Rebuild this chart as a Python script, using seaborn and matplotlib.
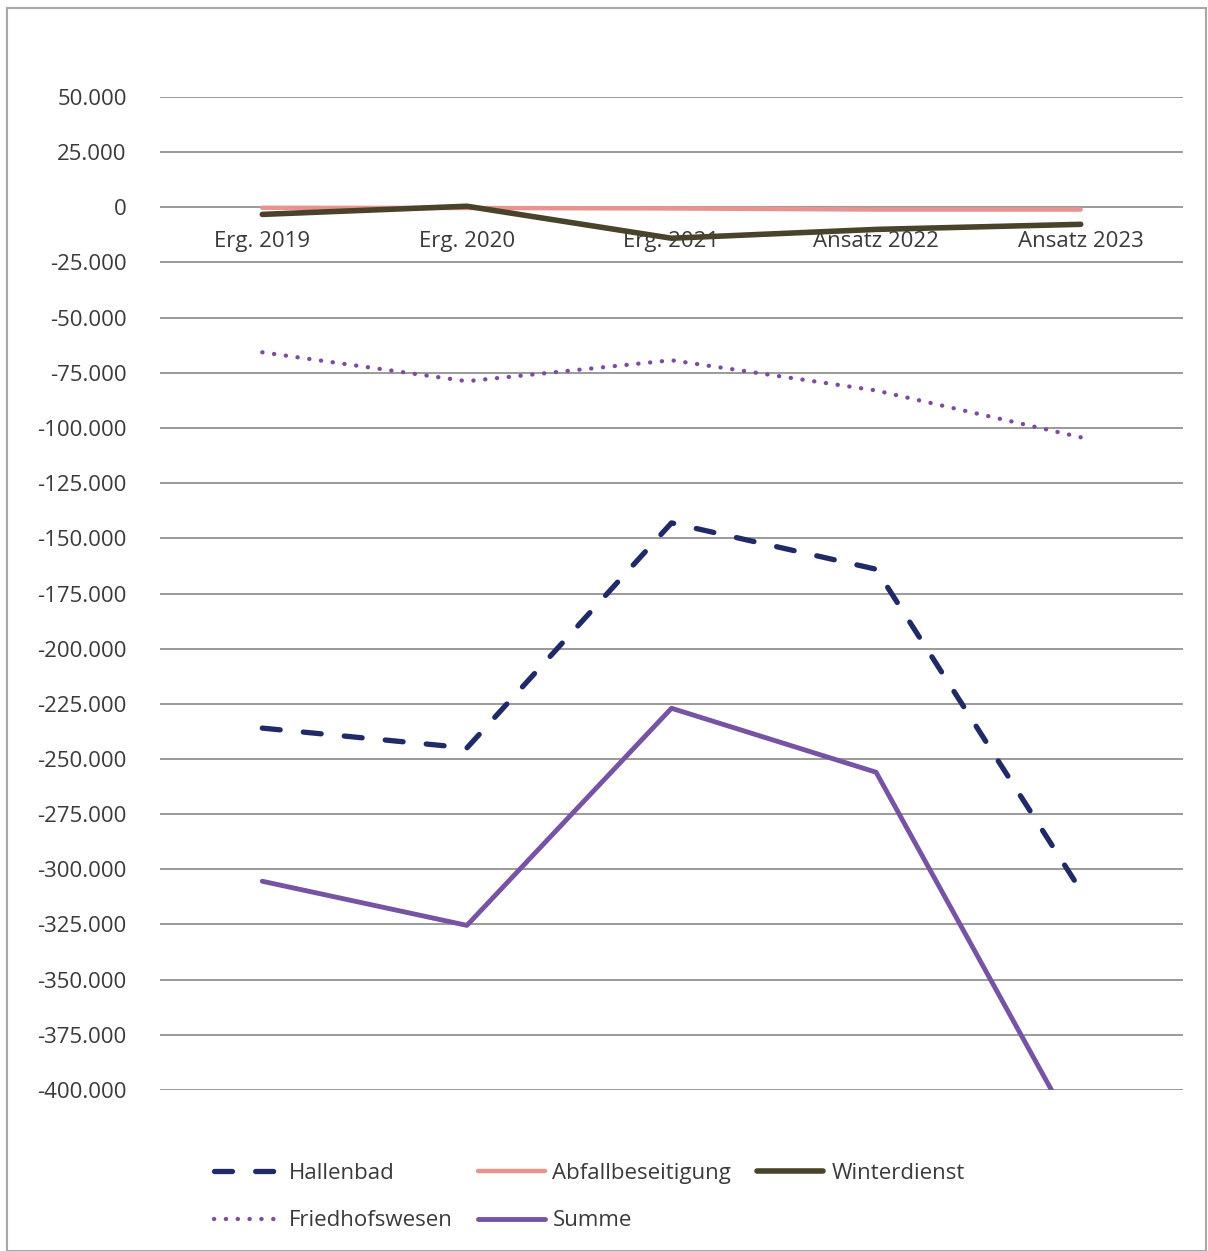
import matplotlib
matplotlib.use("Agg")
import matplotlib.pyplot as plt
import seaborn as sns
import pandas as pd
from matplotlib.patches import Rectangle
from matplotlib.ticker import FuncFormatter, FixedLocator

categories = ["Erg. 2019", "Erg. 2020", "Erg. 2021", "Ansatz 2022", "Ansatz 2023"]
hallenbad = [-236000, -245000, -143000, -164000, -309500]
abfall = [-200, -300, -500, -1000, -1000]
winterdienst = [-3200, 500, -14000, -10000, -7700]
friedhof = [-65700, -78800, -69300, -83000, -104200]
summe = [-305400, -325400, -227000, -256000, -424000]
yticks = list(range(-400000, 50001, 25000))

sns.set_theme(style="white")
plt.rcParams['font.family'] = ['Open Sans', 'DejaVu Sans']

fig = plt.figure(figsize=(12.08, 12.51), dpi=100)
ax = fig.add_axes([160/1208, 1-1090/1251, (1183-160)/1208, (1090-97)/1251])

x = list(range(len(categories)))
series = [
    ("Hallenbad", hallenbad, dict(color="#1f2a66", linewidth=3.8, dashes=(3.4, 4.4),
                                  dash_capstyle="round")),
    ("Abfallbeseitigung", abfall, dict(color="#e8938f", linewidth=3.2)),
    ("Winterdienst", winterdienst, dict(color="#48432a", linewidth=4.0)),
    ("Friedhofswesen", friedhof, dict(color="#7e4c9c", linewidth=3.1, dashes=(0.05, 2.7),
                                      dash_capstyle="round")),
    ("Summe", summe, dict(color="#7653a3", linewidth=3.5)),
]
handles = {}
for name, vals, kw in series:
    df = pd.DataFrame({"x": x, "y": vals})
    sns.lineplot(data=df, x="x", y="y", ax=ax, label=name, **kw)
    handles[name] = ax.get_lines()[-1]
if ax.get_legend():
    ax.get_legend().remove()

ax.set_ylim(-400000, 50000)
ax.set_xlim(-0.5, 4.5)
ax.yaxis.set_major_locator(FixedLocator(yticks))
ax.yaxis.set_major_formatter(FuncFormatter(lambda v, p: f"{v:,.0f}".replace(",", ".")))
ax.grid(axis="y", color="#9a9a9a", linewidth=1.4)
ax.set_axisbelow(True)
for s in ["top", "right", "left"]:
    ax.spines[s].set_visible(False)
ax.spines["bottom"].set_position(("data", 0))
ax.spines["bottom"].set_visible(False)
ax.set_xticks(x)
ax.set_xticklabels(categories)
ax.tick_params(axis="x", length=0, pad=17, labelsize=16, labelcolor="#3a3a3a")
ax.tick_params(axis="y", length=0, pad=24, labelsize=16, labelcolor="#3a3a3a")
ax.set_xlabel("")
ax.set_ylabel("")

order = ["Hallenbad", "Friedhofswesen", "Abfallbeseitigung", "Summe", "Winterdienst"]
leg = fig.legend([handles[n] for n in order], order, ncol=3, loc="center left",
                 bbox_to_anchor=(194/1208, 1-1197/1251), frameon=False,
                 fontsize=16, handlelength=3.0, handletextpad=0.35,
                 columnspacing=1.15, labelspacing=1.2)
for t in leg.get_texts():
    t.set_color("#3a3a3a")

fig.patches.append(Rectangle((7/1208, 0), 1199/1208, 1-8/1251, transform=fig.transFigure,
                             fill=False, edgecolor="#a8a8a8", linewidth=1.5))

fig.savefig("out.png", dpi=100, facecolor="white")
